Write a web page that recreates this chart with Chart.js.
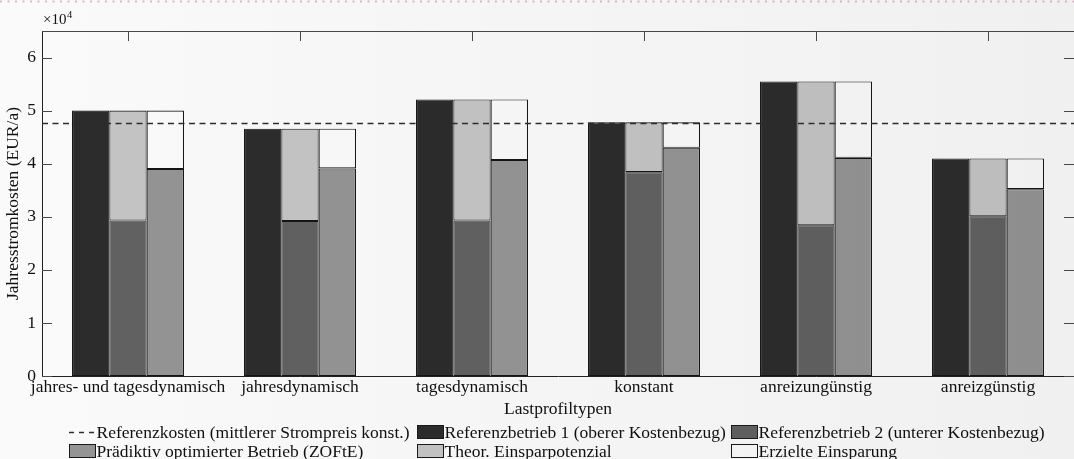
<!DOCTYPE html>
<html>
<head>
<meta charset="utf-8">
<script src="https://cdn.jsdelivr.net/npm/chart.js@4.4.1/dist/chart.umd.min.js"></script>
<style>
  html, body { margin: 0; padding: 0; background: #ffffff; }
  #wrap { width: 1074px; height: 459px; position: relative; }
</style>
</head>
<body>
<div id="wrap"><canvas id="c" width="1074" height="459"></canvas></div>
<script>
// Load profile types
const categories = ['jahres- und tagesdynamisch', 'jahresdynamisch', 'tagesdynamisch', 'konstant', 'anreizungünstig', 'anreizgünstig'];
// Annual electricity cost in EUR/a
const referenzbetrieb1 = [50000, 46600, 52100, 47800, 55500, 41000];
const referenzbetrieb2 = [29300, 29200, 29300, 38400, 28400, 30100];
const praediktiv = [39000, 39100, 40700, 43000, 41100, 35200];
const referenzkosten = 47700;
// y tick labels, in units of 10^4 EUR/a
const yTicks = [0, 1, 2, 3, 4, 5, 6];
const yMax = 6.5;

// Savings segments stacked on top of the lower bars
const theorEinsparpotenzial = referenzbetrieb1.map((v, i) => v - referenzbetrieb2[i]);
const erzielteEinsparung = referenzbetrieb1.map((v, i) => v - praediktiv[i]);

const FONT = '"Liberation Serif", "Times New Roman", serif';
const FS = 17.5;
const EDGE = '#151515';
const refLine = { label: 'Referenzkosten (mittlerer Strompreis konst.)', color: '#2e2e2e', dash: [6, 4.5] };

const datasets = [
  { label: 'Referenzbetrieb 1 (oberer Kostenbezug)', data: referenzbetrieb1, stack: 'a', backgroundColor: '#2d2d2d' },
  { label: 'Referenzbetrieb 2 (unterer Kostenbezug)', data: referenzbetrieb2, stack: 'b', backgroundColor: '#636363' },
  { label: 'Theor. Einsparpotenzial', data: theorEinsparpotenzial, stack: 'b', backgroundColor: '#c8c8c8' },
  { label: 'Prädiktiv optimierter Betrieb (ZOFtE)', data: praediktiv, stack: 'c', backgroundColor: '#979797' },
  { label: 'Erzielte Einsparung', data: erzielteEinsparung, stack: 'c', backgroundColor: '#ffffff' }
];
datasets.forEach(d => Object.assign(d, {
  borderColor: EDGE, borderWidth: 1.1, borderSkipped: false,
  categoryPercentage: 0.651, barPercentage: 1.0
}));

// Legend layout: rows of dataset indices (-1 = reference cost line)
const legendRows = [[-1, 0, 1], [3, 2, 4]];
const legendCols = [69, 417, 731];
const legendRowY = [432, 451];

const framePlugin = {
  id: 'frame',
  beforeDraw(chart) {
    const { ctx, width } = chart;
    ctx.save();
    ctx.fillStyle = '#ffffff';
    ctx.fillRect(0, 0, width, chart.height);
    // dotted rule along the top edge
    ctx.strokeStyle = '#e9b6cf';
    ctx.lineWidth = 2;
    ctx.setLineDash([2, 5.5]);
    ctx.beginPath();
    ctx.moveTo(0, 1.5);
    ctx.lineTo(width, 1.5);
    ctx.stroke();
    ctx.restore();
  },
  beforeDatasetsDraw(chart) {
    const { ctx, chartArea: a, scales } = chart;
    const tl = 10;
    ctx.save();
    ctx.strokeStyle = '#4a4a4a';
    ctx.lineWidth = 1;
    ctx.beginPath();
    ctx.moveTo(a.left, a.top + 0.5);
    ctx.lineTo(a.right, a.top + 0.5);
    ctx.stroke();
    // inward ticks: top edge at category centres
    ctx.beginPath();
    scales.x.ticks.forEach((t, i) => {
      const x = Math.round(scales.x.getPixelForTick(i)) + 0.5;
      ctx.moveTo(x, a.top);
      ctx.lineTo(x, a.top + tl);
    });
    // inward ticks: left and right edges at y ticks
    scales.y.ticks.forEach(t => {
      const y = Math.round(scales.y.getPixelForValue(t.value)) + 0.5;
      ctx.moveTo(a.left, y);
      ctx.lineTo(a.left + tl, y);
      ctx.moveTo(a.right, y);
      ctx.lineTo(a.right - tl, y);
    });
    ctx.stroke();
    ctx.restore();
  },
  afterDatasetsDraw(chart) {
    // dashed reference cost line across the full plot width
    const { ctx, chartArea: a, scales } = chart;
    const y = Math.round(scales.y.getPixelForValue(referenzkosten)) + 0.5;
    ctx.save();
    ctx.strokeStyle = refLine.color;
    ctx.lineWidth = 1.4;
    ctx.setLineDash(refLine.dash);
    ctx.beginPath();
    ctx.moveTo(a.left, y);
    ctx.lineTo(a.right, y);
    ctx.stroke();
    ctx.restore();
  },
  afterDraw(chart) {
    const { ctx, chartArea: a } = chart;
    ctx.save();
    // exponent label
    ctx.fillStyle = '#111';
    ctx.textBaseline = 'alphabetic';
    ctx.font = '15px ' + FONT;
    ctx.fillText('×10', a.left + 1, 24);
    const w = ctx.measureText('×10').width;
    ctx.font = '10.5px ' + FONT;
    ctx.fillText('4', a.left + 1 + w + 0.5, 18);

    // legend
    ctx.font = FS + 'px ' + FONT;
    ctx.textBaseline = 'middle';
    legendRows.forEach((row, r) => {
      const y = legendRowY[r];
      row.forEach((di, c) => {
        const x0 = legendCols[c];
        let label;
        if (di < 0) {
          label = refLine.label;
          ctx.strokeStyle = refLine.color;
          ctx.lineWidth = 1.4;
          ctx.setLineDash([5, 5]);
          ctx.beginPath();
          ctx.moveTo(x0, y + 0.5);
          ctx.lineTo(x0 + 26, y + 0.5);
          ctx.stroke();
          ctx.setLineDash([]);
        } else {
          const ds = chart.data.datasets[di];
          label = ds.label;
          ctx.fillStyle = ds.backgroundColor;
          ctx.fillRect(x0 + 0.5, y - 6.5, 26, 13);
          ctx.strokeStyle = '#1a1a1a';
          ctx.lineWidth = 1;
          ctx.strokeRect(x0 + 0.5, y - 6.5, 26, 13);
        }
        ctx.fillStyle = '#111';
        ctx.fillText(label, x0 + 27.5, y + 1);
      });
    });

    // soft horizontal shading over the whole figure
    const g = ctx.createLinearGradient(0, 0, chart.width, 0);
    g.addColorStop(0, 'rgba(0,0,0,0.018)');
    g.addColorStop(1, 'rgba(0,0,0,0.058)');
    ctx.fillStyle = g;
    ctx.fillRect(0, 0, chart.width, chart.height);
    ctx.restore();
  }
};

new Chart(document.getElementById('c'), {
  type: 'bar',
  data: { labels: categories, datasets },
  plugins: [framePlugin],
  options: {
    responsive: false,
    animation: false,
    devicePixelRatio: 1,
    events: [],
    layout: { padding: { top: 31, right: 0, bottom: 38, left: 0 } },
    plugins: { legend: { display: false }, tooltip: { enabled: false } },
    scales: {
      x: {
        type: 'category', position: 'bottom', offset: true,
        grid: { display: false, drawTicks: false },
        border: { display: true, color: '#222', width: 1 },
        ticks: { font: { family: FONT, size: FS }, color: '#111', padding: 1, maxRotation: 0, autoSkip: false },
        title: { display: true, text: 'Lastprofiltypen', font: { family: FONT, size: FS }, color: '#111', padding: { top: 0, bottom: 1 } },
        afterFit(s) { s.height = 45; }
      },
      y: {
        type: 'linear', stacked: true, min: 0, max: yMax * 1e4,
        afterBuildTicks(s) { s.ticks = yTicks.map(v => ({ value: v * 1e4 })); },
        grid: { display: false, drawTicks: false },
        border: { display: true, color: '#222', width: 1 },
        ticks: { font: { family: FONT, size: FS }, color: '#111', padding: 6, callback: v => String(v / 1e4) },
        title: { display: true, text: 'Jahresstromkosten (EUR/a)', font: { family: FONT, size: FS }, color: '#111', padding: { top: 3, bottom: 0 } },
        afterFit(s) { s.width = 42; }
      }
    }
  }
});
</script>
</body>
</html>
